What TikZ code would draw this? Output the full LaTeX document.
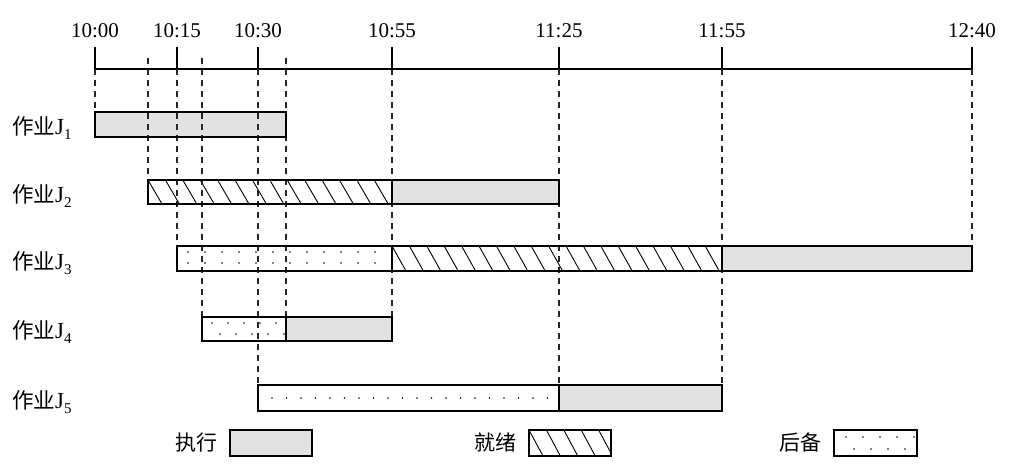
\documentclass[tikz,border=0pt]{standalone}
\usepackage{fontspec}
\setmainfont{Liberation Serif}
\newfontfamily\cjk{Noto Sans CJK SC}
\definecolor{execgray}{HTML}{E2E2E2}
\tikzset{
  barline/.style={draw=black, line width=1.7pt},
  execfill/.style={fill=execgray},
  guide/.style={dash pattern=on 6pt off 5pt, line width=1.1pt, draw=black!85},
  tickline/.style={line width=1.3pt},
  timelab/.style={font=\fontsize{21}{24}\selectfont, inner sep=0pt},
  joblab/.style={font=\fontsize{23}{26}\selectfont, inner sep=0pt, anchor=west},
  leglab/.style={font=\cjk\fontsize{21}{24}\selectfont, inner sep=0pt},
  hatchline/.style={line width=0.9pt},
}
% hatch: x1 y1 x2 y2
\newcommand\myhatch[4]{%
  \begin{scope}
    \clip (#1,#2) rectangle (#3,#4);
    \pgfmathtruncatemacro\nh{(#3-#1)/17.4+1}
    \foreach \k in {0,...,\nh}{\draw[hatchline] ({#1+17.4*\k},#2) -- ++(14,{#4-#2});}
  \end{scope}}
% dot row: x1 x2 y spacing
\newcommand\mydots[4]{%
  \pgfmathtruncatemacro\nd{(#2-#1)/#4}
  \foreach \k in {0,...,\nd}{\pgfmathsetmacro\xd{#1+#4*\k}
    \ifdim\xd pt<#2pt \fill ({\xd},#3) circle (0.9pt);\fi}}
\newcommand\myjob[1]{{\cjk\fontsize{21.5}{24}\selectfont 作业}J\raisebox{-0.55ex}{\fontsize{15}{15}\selectfont #1}}
\begin{document}
\begin{tikzpicture}[x=1pt,y=-1pt]
\useasboundingbox (0,0) rectangle (1010,470);
% ---- fills ----
% J1
\fill[execgray] (95,112) rectangle (286,137);
% J2
\myhatch{148}{180}{392}{204}
\fill[execgray] (392,180) rectangle (559,204);
% J3
\mydots{188}{392}{252}{17}
\mydots{188}{392}{263}{17}
\myhatch{392}{246}{722}{271}
\fill[execgray] (722,246) rectangle (972,271);
% J4
\mydots{212}{286}{323}{16}
\mydots{220}{286}{334}{16}
\fill[execgray] (286,317) rectangle (392,341);
% J5
\mydots{272}{559}{398}{14.5}
\fill[execgray] (559,385) rectangle (722,411);
% ---- axis ----
\draw[tickline] (95,69) -- (972,69);
\foreach \x/\t in {95/10:00,177/10:15,258/10:30,392/10:55,559/11:25,722/11:55,972/12:40}{
  \draw[tickline] (\x,47) -- (\x,69);
  \node[timelab] (t\x) at (\x,31) {\t};
}
% ---- guides ----
\foreach \x/\a/\b in {95/69/112,148/58/180,177/69/246,202/58/317,258/69/385,286/58/317,392/69/317,559/69/385,722/69/385,972/69/246}{
  \draw[guide] (\x,\a) -- (\x,\b);
}
% ---- borders ----
\draw[barline] (95,112) rectangle (286,137);
\draw[barline] (148,180) rectangle (559,204);
\draw[barline] (392,180) -- (392,204);
\draw[barline] (177,246) rectangle (972,271);
\draw[barline] (392,246) -- (392,271) (722,246) -- (722,271);
\draw[barline] (202,317) rectangle (392,341);
\draw[barline] (286,317) -- (286,341);
\draw[barline] (258,385) rectangle (722,411);
\draw[barline] (559,385) -- (559,411);
% ---- job labels ----
\node[joblab] (j1) at (12,128) {\myjob{1}};
\node[joblab] (j2) at (12,196) {\myjob{2}};
\node[joblab] (j3) at (12,263) {\myjob{3}};
\node[joblab] (j4) at (12,332) {\myjob{4}};
\node[joblab] (j5) at (12,402) {\myjob{5}};
% ---- legend ----
\node[leglab] (lexec) at (196,443) {执行};
\fill[execgray] (230,430) rectangle (312,456);
\draw[barline] (230,430) rectangle (312,456);
\node[leglab] (lready) at (495,443) {就绪};
\myhatch{529}{430}{611}{456}
\draw[barline] (529,430) rectangle (611,456);
\node[leglab] (lback) at (800,443) {后备};
\mydots{846}{917}{437}{17}
\mydots{854}{917}{449}{17}
\draw[barline] (834,430) rectangle (917,456);
\end{tikzpicture}
\end{document}
